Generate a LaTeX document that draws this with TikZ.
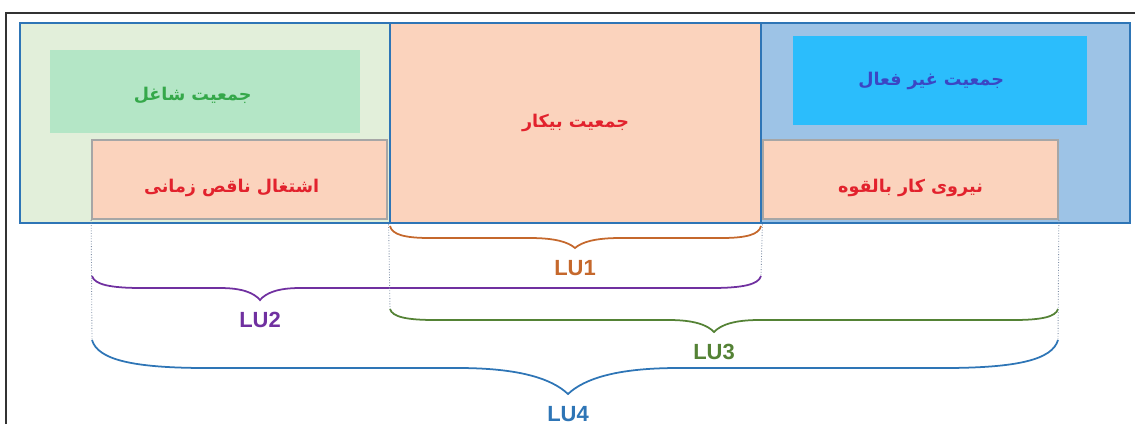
\documentclass[tikz,border=0pt]{standalone}
\usepackage{fontspec}
\setmainfont{Liberation Sans}
\newfontfamily\farsi[Script=Arabic]{DejaVu Sans}
\TeXXeTstate=1

\definecolor{regionblue}{HTML}{2E75B6}
\definecolor{leftbg}{HTML}{E2EFDA}
\definecolor{rightbg}{HTML}{9DC3E6}
\definecolor{peach}{HTML}{FBD3BD}
\definecolor{boxgray}{HTML}{A6A6A6}
\definecolor{greenbox}{HTML}{B4E6C6}
\definecolor{cyanbox}{HTML}{2BBDFC}
\definecolor{greentxt}{HTML}{35A84A}
\definecolor{redtxt}{HTML}{E2222D}
\definecolor{bluetxt}{HTML}{3B46C4}
\definecolor{lu1col}{HTML}{C5682C}
\definecolor{lu2col}{HTML}{7030A0}
\definecolor{lu3col}{HTML}{548235}
\definecolor{lu4col}{HTML}{2E75B6}
\definecolor{dotgray}{HTML}{7F8FA6}

\tikzset{
  region/.style={rectangle, draw=regionblue, line width=1.6pt, inner sep=0pt, minimum height=4cm},
  lowbox/.style={rectangle, fill=peach, draw=boxgray, line width=1pt, inner sep=0pt, minimum width=5.9cm, minimum height=1.58cm},
  fatext/.style={font=\farsi\bfseries\fontsize{10}{12}\selectfont},
  dotline/.style={densely dotted, draw=dotgray, line width=0.5pt},
  lubrace/.style={line width=1pt},
  lulabel/.style={font=\bfseries\fontsize{12.5}{14}\selectfont},
}

\begin{document}
\begin{tikzpicture}[x=0.02cm,y=-0.02cm]
\useasboundingbox (0,0) rectangle (1135,424);

% frame
\draw[black!80, line width=0.8pt] (6,424) -- (6,13) -- (1135,13);

%%%%%%%%%%%%%%%%%%%% Regions %%%%%%%%%%%%%%%%%%%%%%%%%%
\node[region, fill=leftbg, minimum width=7.4cm] (emp) at (205,123) {};
\node[region, fill=peach, minimum width=7.42cm, fatext, text=redtxt] (unemp) at (575.5,123) {\beginR جمعیت بیکار\endR};
\node[region, fill=rightbg, minimum width=7.38cm] (inact) at (945.5,123) {};

%inner boxes
\node[rectangle, fill=greenbox, inner sep=0pt, minimum width=6.2cm, minimum height=1.66cm] (empbox) at (205,91.5) {};
\node[rectangle, fill=cyanbox, inner sep=0pt, minimum width=5.88cm, minimum height=1.78cm] (inactbox) at (940,80.5) {};
\node[fatext, text=greentxt] (empt) at ([xshift=-7pt,yshift=-2pt]empbox.center) {\beginR جمعیت شاغل\endR};
\node[fatext, text=bluetxt] (inactt) at ([xshift=-5pt]inactbox.center) {\beginR جمعیت غیر فعال\endR};

\node[lowbox] (part) at (239.5,179.5) {};
\node[lowbox] (pot) at (910.5,179.5) {};
\node[fatext, text=redtxt] (partt) at ([xshift=-4.5pt,yshift=-5pt]part.center) {\beginR اشتغال ناقص زمانی\endR};
\node[fatext, text=redtxt] (pott) at ([yshift=-5pt]pot.center) {\beginR نیروی کار بالقوه\endR};

%%%%%%%%%%%%%%%%%%%% Braces %%%%%%%%%%%%%%%%%%%%%%%%%%
\foreach \xa/\xb/\xt/\ya/\yb/\yc/\ra/\rb/\col/\lab in {
  390/761/575/226/238/248/40/45/lu1col/LU1,
  92/761/260/276/288/300/50/40/lu2col/LU2,
  390/1058/714/309/320/332/45/45/lu3col/LU3,
  92/1058/568/340/368/394/115/110/lu4col/LU4}
{
    \coordinate (\lab a) at (\xa,\ya);
    \coordinate (\lab b) at (\xb,\ya);
    \coordinate (\lab t) at (\xt,\yc);
    \draw[lubrace, \col] (\lab a)
      .. controls ({\xa+0.05*\ra},{\ya+0.7*(\yb-\ya)}) and ({\xa+0.35*\ra},\yb) .. ({\xa+\ra},\yb)
      -- ({\xt-\rb},\yb)
      .. controls ({\xt-0.45*\rb},\yb) and ({\xt-0.15*\rb},{\yb+0.4*(\yc-\yb)}) .. (\lab t)
      .. controls ({\xt+0.15*\rb},{\yb+0.4*(\yc-\yb)}) and ({\xt+0.45*\rb},\yb) .. ({\xt+\rb},\yb)
      -- ({\xb-\ra},\yb)
      .. controls ({\xb-0.35*\ra},\yb) and ({\xb-0.05*\ra},{\ya+0.7*(\yb-\ya)}) .. (\lab b);
    \node[lulabel, text=\col] (\lab) at (\xt,{\yc+20}) {\lab};
}

%dotted guides
\path[dotline] (part.south west) edge (LU4a)
  (unemp.south west) edge (LU3a)
  (unemp.south east) edge (LU2b)
  (pot.south east) edge (LU4b);

\end{tikzpicture}
\end{document}
